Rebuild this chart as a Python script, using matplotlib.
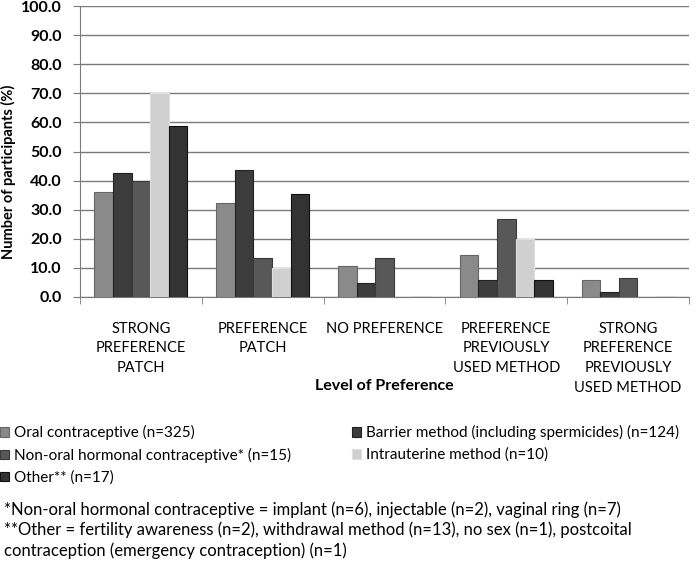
import numpy as np
import matplotlib.pyplot as plt

plt.rcParams['font.family'] = ['Lato', 'DejaVu Sans']
plt.rcParams['font.size'] = 11

categories = ['STRONG\nPREFERENCE\nPATCH', 'PREFERENCE\nPATCH', 'NO PREFERENCE',
              'PREFERENCE\nPREVIOUSLY\nUSED METHOD', 'STRONG\nPREFERENCE\nPREVIOUSLY\nUSED METHOD']
series = ['Oral contraceptive (n=325)', 'Barrier method (including spermicides) (n=124)',
          'Non-oral hormonal contraceptive* (n=15)', 'Intrauterine method (n=10)', 'Other** (n=17)']
oral = [36.0, 32.3, 10.5, 14.5, 5.8]
barrier = [42.7, 43.5, 4.8, 6.0, 1.6]
nonoral = [40.0, 13.3, 13.3, 26.7, 6.7]
iud = [70.0, 10.0, 0.0, 20.0, 0.0]
other = [58.8, 35.3, 0.0, 5.9, 0.0]
values = [oral, barrier, nonoral, iud, other]
colors = ['#8a8a8a', '#3c3c3c', '#585858', '#d0d0d0', '#333333']
edges = ['#666666', '#222222', '#3a3a3a', '#e0e0e0', '#111111']

fig = plt.figure(figsize=(6.96, 5.68), dpi=100)
ax = fig.add_axes([80/696, 1-297/568, 609/696, 291/568])

x = np.arange(len(categories))
w = 0.153
bars = []
for i, v in enumerate(values):
  b = ax.bar(x + (i-2)*w, v, w, color=colors[i], edgecolor=edges[i], linewidth=0.8, zorder=3)
  bars.append(b)

ax.set_xlim(-0.5, 4.5)
ax.set_ylim(0, 100)
ax.set_yticks(np.arange(0, 101, 10))
ax.set_yticklabels(['%.1f' % t for t in np.arange(0, 101, 10)], fontweight='bold', fontsize=11.5)
ax.yaxis.grid(True, color='#7a7a7a', linewidth=1, zorder=0)
ax.set_xticks(x)
ax.set_xticklabels(categories, fontsize=10.5, linespacing=1.5)
ax.set_xticks(np.arange(-0.5, 5, 1), minor=True)
ax.tick_params(axis='x', which='major', length=0, pad=18)
ax.tick_params(axis='x', which='minor', length=5, color='#7a7a7a', direction='out')
ax.tick_params(axis='y', length=5, color='#7a7a7a', pad=8)
for s in ['top', 'right']:
  ax.spines[s].set_visible(False)
ax.spines['left'].set_color('#7a7a7a')
ax.spines['bottom'].set_color('#7a7a7a')
ax.set_ylabel('Number of participants (%)', fontweight='bold', fontsize=10.5)
ax.yaxis.set_label_coords(-0.105, 0.43)

fig.text(384/696, 1-386/568, 'Level of Preference', fontweight='bold', fontsize=11.5,
         ha='center', va='center')

order = [0, 2, 4, 1, 3]
fig.legend([bars[i] for i in order], [series[i] for i in order], ncol=2,
           loc='upper left', bbox_to_anchor=(0.0, 1-425/568), frameon=False,
           borderpad=0, borderaxespad=0, handlelength=0.6, handleheight=0.6,
           handletextpad=0.3, labelspacing=0.5, columnspacing=4.0, fontsize=11)

notes = ('*Non-oral hormonal contraceptive = implant (n=6), injectable (n=2), vaginal ring (n=7)\n'
         '**Other = fertility awareness (n=2), withdrawal method (n=13), no sex (n=1), postcoital\n'
         'contraception (emergency contraception) (n=1)')
fig.text(4/696, 1-501/568, notes, fontsize=12, ha='left', va='top', linespacing=1.32)

fig.savefig('out.png', dpi=100)
